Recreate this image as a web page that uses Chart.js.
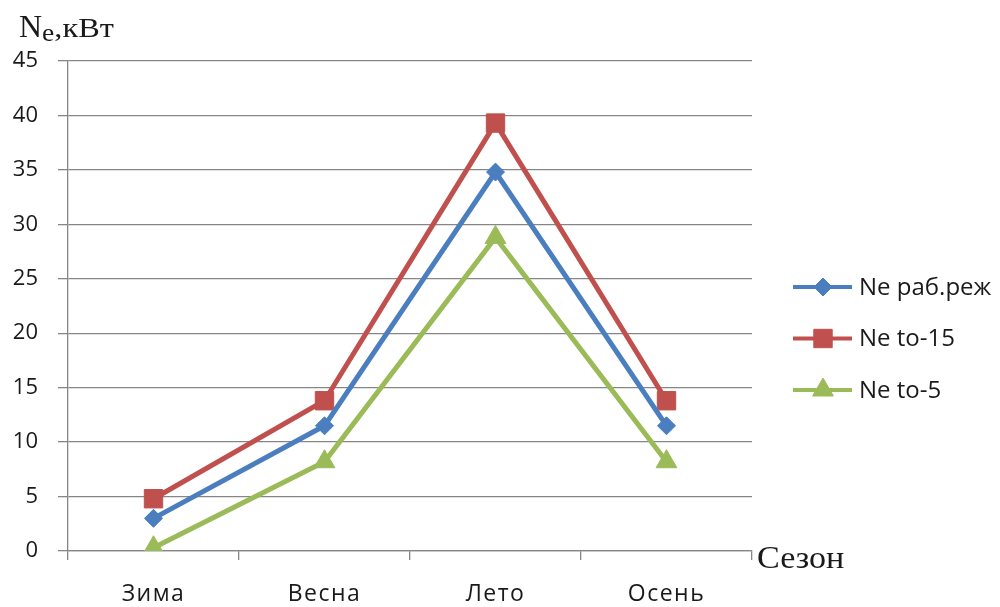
<!DOCTYPE html>
<html>
<head>
<meta charset="utf-8">
<script src="https://cdn.jsdelivr.net/npm/chart.js@4/dist/chart.umd.min.js"></script>
<style>
  html, body { margin: 0; padding: 0; background: #ffffff; }
  #wrap { width: 1000px; height: 607px; }
  canvas { display: block; }
</style>
</head>
<body>
<div id="wrap"><canvas id="chart" width="1000" height="607"></canvas></div>
<script>
// Seasons on the category axis
const seasons = ['Зима', 'Весна', 'Лето', 'Осень'];

// Effective power Ne, kW, per season
const neWorking = [3.0, 11.5, 34.8, 11.5];   // Ne раб.реж
const neTo15    = [4.8, 13.8, 39.3, 13.8];   // Ne to-15
const neTo5     = [0.3, 8.2, 28.8, 8.2];     // Ne to-5

const seriesNames = ['Ne раб.реж', 'Ne to-15', 'Ne to-5'];

// Value axis range
const yMin = 0;
const yMax = 45;
const yStep = 5;

const GRID = '#868686';
const TEXT = '#1a1a1a';

// Draws text stretched horizontally by sx
function wideText(ctx, text, x, y, sx) {
  ctx.save();
  ctx.translate(x, y);
  ctx.scale(sx, 1);
  ctx.fillText(text, 0, 0);
  const w = ctx.measureText(text).width * sx;
  ctx.restore();
  return w;
}

// Axis titles and the legend on the right
const annotations = {
  id: 'annotations',
  afterUpdate(chart) {
    // slightly spaced-out season labels
    const xs = chart.scales.x;
    if (xs && !xs._spaced) {
      const orig = xs.drawLabels;
      xs.drawLabels = function (area) {
        this.ctx.save();
        this.ctx.letterSpacing = '1.5px';
        orig.call(this, area);
        this.ctx.restore();
      };
      xs._spaced = true;
    }
  },
  afterDraw(chart) {
    const ctx = chart.ctx;
    ctx.save();
    ctx.fillStyle = TEXT;
    ctx.textAlign = 'left';
    ctx.textBaseline = 'alphabetic';

    // value axis title: N with subscript e, then ",кВт"
    let x = 19;
    ctx.font = '32px "Liberation Serif", serif';
    x += wideText(ctx, 'N', x, 37, 1.0);
    ctx.font = '25px "Liberation Serif", serif';
    x += wideText(ctx, 'e', x, 41, 1.1);
    ctx.font = '27px "Liberation Serif", serif';
    wideText(ctx, ',кВт', x, 37, 1.2);

    // category axis title
    ctx.font = '31px "Liberation Serif", serif';
    wideText(ctx, 'Сезон', 757, 568, 1.1);

    // legend
    chart.data.datasets.forEach((ds, i) => {
      const y = 287 + i * 51.5;
      ctx.strokeStyle = ds.borderColor;
      ctx.lineWidth = 4;
      ctx.beginPath();
      ctx.moveTo(793, y);
      ctx.lineTo(852, y);
      ctx.stroke();
      ctx.fillStyle = ds.pointBackgroundColor;
      ctx.strokeStyle = ds.pointBorderColor;
      ctx.lineWidth = 1;
      Chart.helpers.drawPoint(ctx, {
        pointStyle: ds.pointStyle,
        radius: ds.pointRadius,
        rotation: 0,
        borderWidth: 1
      }, 823, y);
      ctx.fillStyle = TEXT;
      ctx.font = '24px "Open Sans", sans-serif';
      ctx.textBaseline = 'middle';
      ctx.fillText(ds.label, 859, y + 1);
      ctx.textBaseline = 'alphabetic';
    });
    ctx.restore();
  }
};

function series(label, data, color, style, radius) {
  return {
    label,
    data,
    borderColor: color,
    backgroundColor: color,
    borderWidth: 5,
    pointStyle: style,
    pointRadius: radius,
    pointHoverRadius: radius,
    pointBackgroundColor: color,
    pointBorderColor: color,
    pointBorderWidth: 1,
    tension: 0,
    fill: false
  };
}

new Chart(document.getElementById('chart'), {
  type: 'line',
  data: {
    labels: seasons,
    datasets: [
      series(seriesNames[0], neWorking, '#4A7EBE', 'rectRot', 9),
      series(seriesNames[1], neTo15, '#C0504D', 'rect', 13),
      series(seriesNames[2], neTo5, '#9BBB59', 'triangle', 12)
    ]
  },
  options: {
    responsive: false,
    animation: false,
    devicePixelRatio: 1,
    layout: { padding: { top: 61, right: 248, left: 0, bottom: 0 } },
    plugins: {
      legend: { display: false },
      tooltip: { enabled: false }
    },
    scales: {
      x: {
        offset: true,
        grid: {
          offset: true,
          drawOnChartArea: false,
          drawTicks: true,
          tickLength: 9,
          color: GRID,
          lineWidth: 1.3
        },
        border: { display: true, color: GRID, width: 1.3 },
        ticks: { color: TEXT, font: { family: '"Open Sans", sans-serif', size: 23 }, padding: 21, maxRotation: 0 },
        afterFit(scale) { scale.height = 56; }
      },
      y: {
        min: yMin,
        max: yMax,
        ticks: { stepSize: yStep, color: TEXT, font: { family: '"Open Sans", sans-serif', size: 22 }, padding: 20 },
        grid: { color: GRID, lineWidth: 1.3, tickLength: 10 },
        border: { display: true, color: GRID, width: 1.3 },
        afterFit(scale) { scale.width = 68; }
      }
    }
  },
  plugins: [annotations]
});
</script>
</body>
</html>
